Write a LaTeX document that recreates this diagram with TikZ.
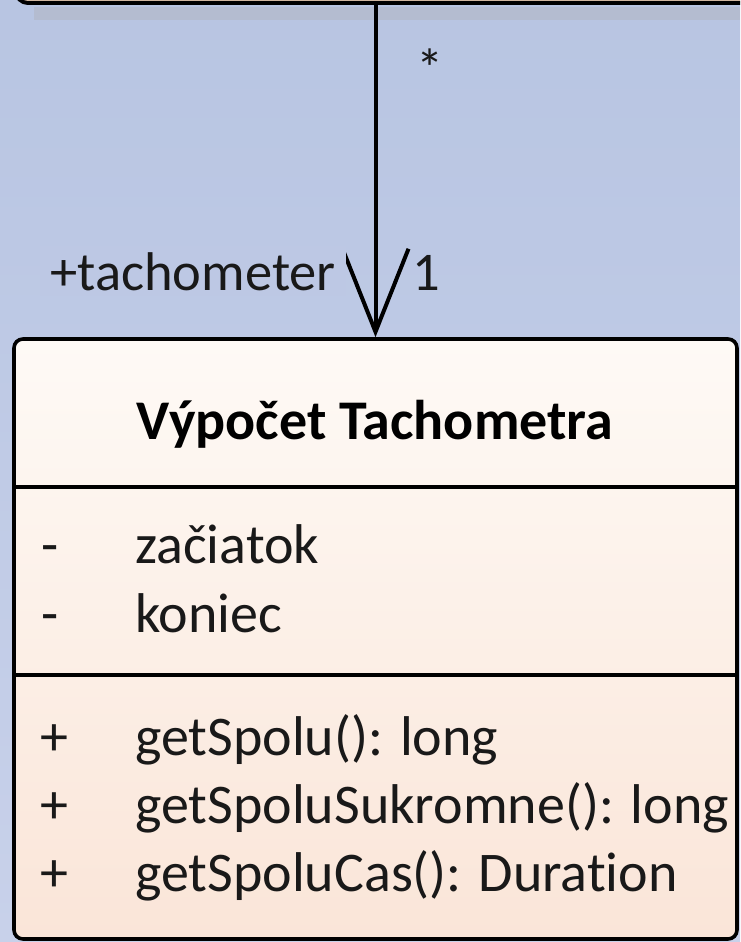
\documentclass[tikz,border=0pt]{standalone}
\usepackage{fontspec}
\setmainfont{Carlito}[Ligatures={NoCommon}]
\usetikzlibrary{arrows.meta}
\definecolor{bgtop}{RGB}{184,197,226}
\definecolor{bgbot}{RGB}{200,209,234}
\definecolor{bgmid}{RGB}{189,200,228}
\definecolor{clstop}{RGB}{254,250,246}
\definecolor{clsbot}{RGB}{250,229,216}
\definecolor{upfill}{RGB}{240,210,184}
\definecolor{shadowc}{RGB}{180,188,208}
\definecolor{ink}{RGB}{25,25,25}
\begin{document}
\begin{tikzpicture}[x=1pt,y=-1pt,
  font=\fontsize{56}{67}\selectfont,
  txt/.style={anchor=base west, inner sep=0pt, text=ink},
  lbl/.style={txt, font=\fontsize{54.5}{65}\selectfont},
  sepline/.style={line width=4pt, draw=black},
  classbox/.style={draw=black, line width=3.6pt, rounded corners=9pt,
    top color=clstop, bottom color=clsbot, inner sep=0pt},
  assoc/.style={line width=4pt, draw=black,
    -{Straight Barb[length=83pt,width=66pt]}}]
\useasboundingbox (0,0) rectangle (740,942);
\clip (0,0) rectangle (740,942);
\shade[top color=bgtop, bottom color=bgbot] (0,0) rectangle (740,942);
% shadow under the upper class
\fill[shadowc] (34,7) rectangle (740,20);
% upper class (only its bottom edge is visible)
\node[draw=black, line width=4pt, fill=upfill, rounded corners=12pt,
  anchor=south west, minimum width=800pt, minimum height=60pt, inner sep=0pt]
  (upper) at (14,5) {};
% lower class
\node[classbox, minimum width=723pt, minimum height=600pt] (cls) at (375.5,639) {};
\coordinate (s1) at (0,487);
\coordinate (s2) at (0,675);
\draw[sepline] (cls.west |- s1) -- (cls.east |- s1);
\draw[sepline] (cls.west |- s2) -- (cls.east |- s2);
% association
\draw[assoc] (upper.south -| cls.north) -- (cls.north);
\node[lbl, anchor=base east, fill=bgmid, inner xsep=10pt, inner ysep=6pt]
  (role) at (346,290) {+tachometer};
\node[lbl] (mult1) at (412,290) {1};
\node[lbl, anchor=base] (many) at (430,88) {*};
% class contents
\node[anchor=base, inner sep=0pt, text=black, font=\fontsize{56}{67}\selectfont\bfseries]
  (title) at (375,439) {Výpočet Tachometra};
\node[txt] (v1) at (41,563) {-};
\node[txt] (a1) at (135,563) {začiatok};
\node[txt] (v2) at (41,632) {-};
\node[txt] (a2) at (135,632) {koniec};
\node[txt] (v3) at (40,755) {+};
\node[txt] (m1) at (135,755) {getSpolu(): long};
\node[txt] (v4) at (40,823) {+};
\node[txt] (m2) at (135,823) {getSpoluSukromne(): long};
\node[txt] (v5) at (40,891) {+};
\node[txt] (m3) at (135,891) {getSpoluCas(): Duration};
\end{tikzpicture}
\end{document}
